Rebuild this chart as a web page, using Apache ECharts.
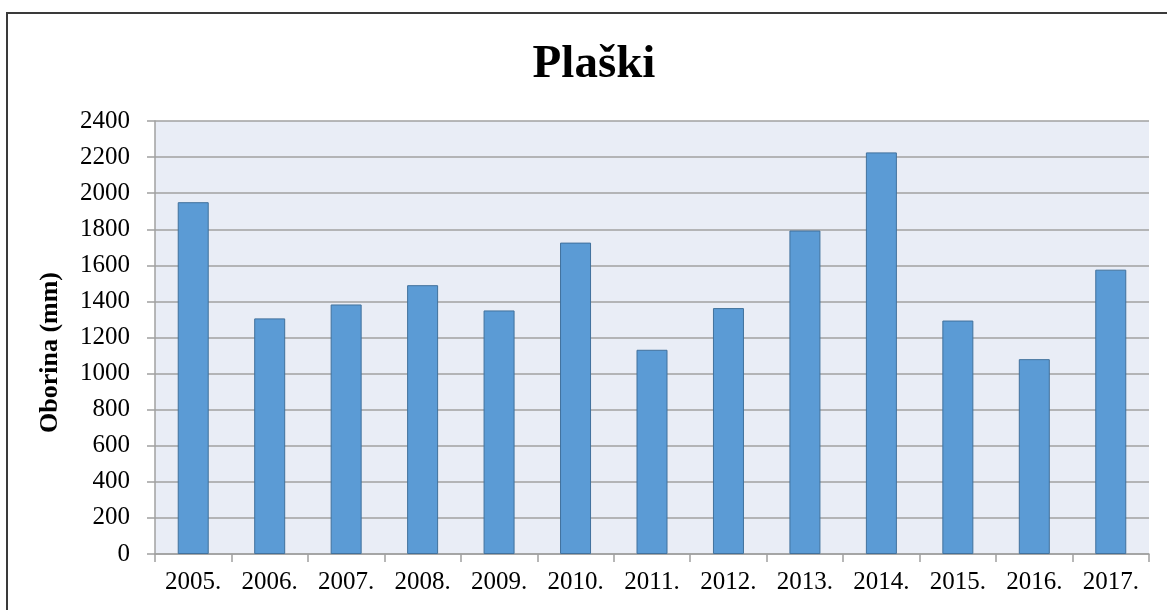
<!DOCTYPE html>
<html>
<head>
<meta charset="utf-8">
<script src="https://cdn.jsdelivr.net/npm/echarts@6/dist/echarts.min.js"></script>
<style>
  html, body { margin: 0; padding: 0; background: #fff; overflow: hidden; }
  #frame { position: absolute; left: 6px; top: 12px; width: 1300px; height: 700px; border: 2px solid #3a3a3a; box-sizing: border-box; }
  #chart { position: absolute; left: 0; top: 0; width: 1167px; height: 610px; }
</style>
</head>
<body>
<div id="frame"></div>
<div id="chart"></div>
<script>
// godišnja oborina, Plaški
const years = ['2005.', '2006.', '2007.', '2008.', '2009.', '2010.', '2011.', '2012.', '2013.', '2014.', '2015.', '2016.', '2017.']
const oborina = [1950, 1306, 1383, 1490, 1350, 1726, 1132, 1363, 1793, 2226, 1294, 1080, 1576]
const yTicks = [0, 2400, 200] // min, max, interval

const FONT = '"Liberation Serif", "DejaVu Serif", serif'
const chart = echarts.init(document.getElementById('chart'))
chart.setOption({
  animation: false,
  textStyle: { fontFamily: FONT },
  title: {
    text: 'Plaški',
    left: 589,
    textAlign: 'center',
    top: 36,
    textStyle: { fontFamily: FONT, fontSize: 47, fontWeight: 'bold', color: '#000' }
  },
  grid: {
    left: 155,
    right: 18,
    top: 121,
    bottom: 56,
    show: true,
    backgroundColor: '#e9edf6',
    borderWidth: 0
  },
  xAxis: {
    type: 'category',
    data: years,
    axisLine: { show: true, lineStyle: { color: '#a0a0a0', width: 1.5 } },
    axisTick: { show: true, length: 8, lineStyle: { color: '#a0a0a0', width: 1.5 } },
    axisLabel: { color: '#000', fontFamily: FONT, fontSize: 25, margin: 16, interval: 0 }
  },
  yAxis: {
    type: 'value',
    min: yTicks[0],
    max: yTicks[1],
    interval: yTicks[2],
    name: 'Oborina (mm)',
    nameLocation: 'middle',
    nameGap: 92,
    nameTextStyle: { fontFamily: FONT, fontSize: 26, fontWeight: 'bold', color: '#000', padding: [0, 30, 0, 0] },
    axisLine: { show: true, lineStyle: { color: '#a0a0a0', width: 1.5 } },
    axisTick: { show: true, length: 8, lineStyle: { color: '#a0a0a0', width: 1.5 } },
    axisLabel: { color: '#000', fontFamily: FONT, fontSize: 25, margin: 25, formatter: v => String(v) },
    splitLine: { show: true, lineStyle: { color: '#a0a0a0', width: 1.5 } }
  },
  series: [
    {
      name: 'Oborina',
      type: 'bar',
      data: oborina,
      barWidth: 31,
      itemStyle: { color: '#5b9bd5', borderColor: '#41719c', borderWidth: 1 }
    }
  ]
})
</script>
</body>
</html>
